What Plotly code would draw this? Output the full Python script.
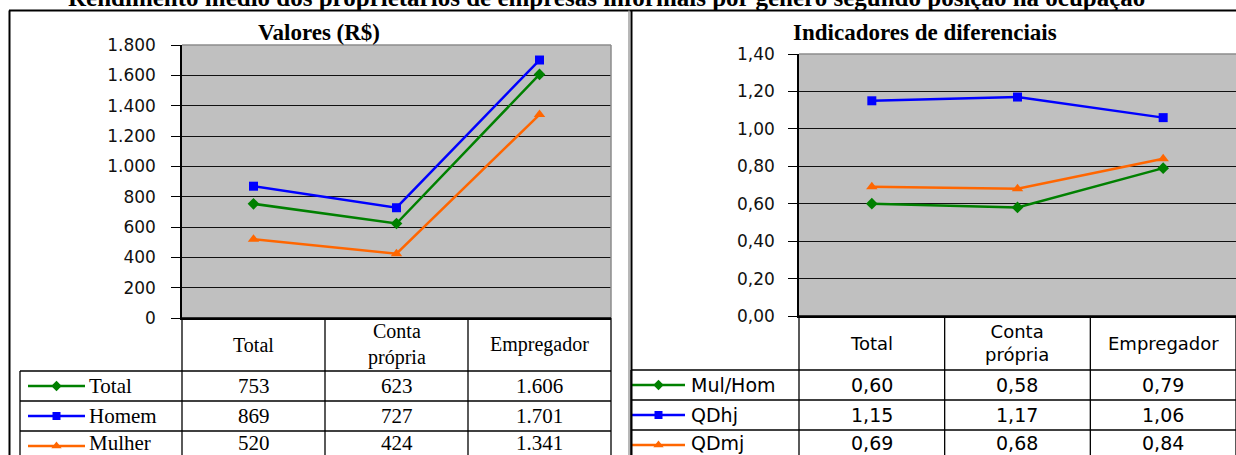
import plotly.graph_objects as go

W, H = 1236, 455

# ---------------- data ----------------
categories = ["Total", "Conta própria", "Empregador"]
header_labels = ["Total", "Conta<br>própria", "Empregador"]

left_title = "Valores (R$)"
left_names = ["Total", "Homem", "Mulher"]
left_total = [753, 623, 1606]
left_homem = [869, 727, 1701]
left_mulher = [520, 424, 1341]

right_title = "Indicadores de diferenciais"
right_names = ["Mul/Hom", "QDhj", "QDmj"]
right_mulhom = [0.60, 0.58, 0.79]
right_qdhj = [1.15, 1.17, 1.06]
right_qdmj = [0.69, 0.68, 0.84]

main_title = "Rendimento médio dos proprietários de empresas informais por gênero segundo posição na ocupação"

left_ticks = [0, 200, 400, 600, 800, 1000, 1200, 1400, 1600, 1800]
right_ticks = [0.0, 0.2, 0.4, 0.6, 0.8, 1.0, 1.2, 1.4]

# ---------------- styles ----------------
colors = ["#008000", "#0000FF", "#FF6600"]
symbols = ["diamond", "square", "triangle-up"]
msizes = [9, 9, 10]
SERIF = "Liberation Serif"
SANS = "DejaVu Sans"


def px(x):
    return x / W


def py(y):
    return 1 - y / H


def fmt_int(v):
    return f"{v:,}".replace(",", ".")


def fmt_dec(v):
    return f"{v:.2f}".replace(".", ",")


# layout geometry (pixels)
L_left, L_right, L_top, L_bottom = 182, 611, 45, 318
R_left, R_right, R_top, R_bottom = 799, 1236, 54, 316
L_rows = [371, 401, 431, 461]
R_rows = [370, 400, 430, 460]
L_leg_left = 20
R_leg_left = 631
TEXT_MAX_Y = 443  # keep the last (partly hidden) table row text inside the picture

fig = go.Figure()

left_series = [left_total, left_homem, left_mulher]
right_series = [right_mulhom, right_qdhj, right_qdmj]

for i, vals in enumerate(left_series):
    fig.add_trace(go.Scatter(
        x=categories, y=vals, mode="lines+markers", name=left_names[i],
        line=dict(color=colors[i], width=2.5),
        marker=dict(symbol=symbols[i], size=msizes[i], color=colors[i]),
        xaxis="x", yaxis="y", showlegend=False, hoverinfo="skip"))

for i, vals in enumerate(right_series):
    fig.add_trace(go.Scatter(
        x=categories, y=vals, mode="lines+markers", name=right_names[i],
        line=dict(color=colors[i], width=2.5),
        marker=dict(symbol=symbols[i], size=msizes[i], color=colors[i]),
        xaxis="x2", yaxis="y2", showlegend=False, hoverinfo="skip"))

shapes = []
annotations = []


def hline(x0, x1, y, color="black", width=1.3, layer="above"):
    shapes.append(dict(type="line", xref="paper", yref="paper",
                       x0=px(x0), x1=px(x1), y0=py(y), y1=py(y),
                       line=dict(color=color, width=width), layer=layer))


def vline(x, y0, y1, color="black", width=1.3, layer="above"):
    shapes.append(dict(type="line", xref="paper", yref="paper",
                       x0=px(x), x1=px(x), y0=py(y0), y1=py(y1),
                       line=dict(color=color, width=width), layer=layer))


# plot area backgrounds
for (l, r, t, b) in [(L_left, L_right, L_top, L_bottom), (R_left, R_right + 2, R_top, R_bottom)]:
    shapes.append(dict(type="rect", xref="paper", yref="paper",
                       x0=px(l), x1=px(r), y0=py(b), y1=py(t),
                       fillcolor="#C0C0C0", line=dict(width=0), layer="below"))

# plot borders (gray, top/right)
hline(L_left, L_right, L_top, color="#8C8C8C", width=1.5)
vline(L_right, L_top, L_bottom, color="#8C8C8C", width=1.5)
hline(R_left, R_right + 2, R_top, color="#8C8C8C", width=1.5)

# outer frames
hline(9, W + 2, 10.5, width=2)
vline(9.5, 10.5, H + 2, width=2)
vline(629, 10.5, H + 2, color="#A0A0A0", width=1.5)
vline(631.5, 10.5, H + 2, width=2)


def table(left, right, bottom, rows, leg_left, names, series, fmt, font, fsize, hsize):
    colw = (right - left) / 3
    bounds = [left + k * colw for k in range(4)]
    for xb in bounds:
        vline(xb, bottom, H + 2)
    vline(leg_left, rows[0], H + 2)
    for yr in rows[:-1]:
        hline(leg_left, right, yr)
    hline(left, right, bottom, width=1.5)
    # header
    for k, lab in enumerate(header_labels):
        annotations.append(dict(text=lab, x=px(bounds[k] + colw / 2), y=py((bottom + rows[0]) / 2),
                                xref="paper", yref="paper", showarrow=False,
                                font=dict(family=font, size=hsize, color="black"),
                                xanchor="center", yanchor="middle"))
    # rows
    for i, vals in enumerate(series):
        yc = min((rows[i] + rows[i + 1]) / 2, TEXT_MAX_Y)
        for k, v in enumerate(vals):
            annotations.append(dict(text=fmt(v), x=px(bounds[k] + colw / 2), y=py(yc),
                                    xref="paper", yref="paper", showarrow=False,
                                    font=dict(family=font, size=fsize, color="black"),
                                    xanchor="center", yanchor="middle"))
    return bounds


table(L_left, L_right, L_bottom, L_rows, L_leg_left, left_names, left_series, fmt_int, SERIF, 21, 20)
table(R_left, R_right, R_bottom, R_rows, R_leg_left, right_names, right_series, fmt_dec, SANS, 19, 18)

# legend keys inside tables (drawn on a pixel overlay axis)
def legend_keys(x0, x1, xt, rows, names, font, fsize):
    for i, nm in enumerate(names):
        yc = (rows[i] + rows[i + 1]) / 2
        fig.add_trace(go.Scatter(
            x=[x0, x1], y=[yc, yc], mode="lines",
            line=dict(color=colors[i], width=2.5),
            xaxis="x3", yaxis="y3", showlegend=False, hoverinfo="skip"))
        fig.add_trace(go.Scatter(
            x=[(x0 + x1) / 2], y=[yc], mode="markers",
            marker=dict(symbol=symbols[i], size=msizes[i] - 1, color=colors[i]),
            xaxis="x3", yaxis="y3", showlegend=False, hoverinfo="skip"))
        annotations.append(dict(text=nm, x=px(xt), y=py(min(yc, TEXT_MAX_Y)), xref="paper", yref="paper",
                                showarrow=False, xanchor="left", yanchor="middle",
                                font=dict(family=font, size=fsize, color="black")))


legend_keys(28, 85, 87, L_rows, left_names, SERIF, 21)
legend_keys(632, 685, 689, R_rows, right_names, SANS, 19)

# titles
annotations.append(dict(text=f"<b>{left_title}</b>", x=px(319), y=py(32.5), xref="paper", yref="paper",
                        showarrow=False, xanchor="center", yanchor="middle",
                        font=dict(family=SERIF, size=23, color="black")))
annotations.append(dict(text=f"<b>{right_title}</b>", x=px(925), y=py(32.5), xref="paper", yref="paper",
                        showarrow=False, xanchor="center", yanchor="middle",
                        font=dict(family=SERIF, size=23, color="black")))
annotations.append(dict(text=f"<b>{main_title}</b>", x=px(606), y=py(13), xref="paper", yref="paper",
                        showarrow=False, xanchor="center", yanchor="bottom",
                        font=dict(family=SERIF, size=25, color="black")))

axis_common = dict(showgrid=False, zeroline=False, showticklabels=False, ticks="",
                   type="category", categoryarray=categories, range=[-0.5, 2.5],
                   fixedrange=True, automargin=False)

fig.update_layout(
    width=W, height=H, autosize=False,
    margin=dict(l=0, r=0, t=0, b=0, pad=0, autoexpand=False),
    paper_bgcolor="white", plot_bgcolor="rgba(0,0,0,0)",
    separators=",.",
    showlegend=False,
    xaxis=dict(domain=[px(L_left), px(L_right)], anchor="y", showline=True,
               linecolor="black", linewidth=1.5, **axis_common),
    yaxis=dict(domain=[py(L_bottom), py(L_top)], anchor="x", range=[0, 1800],
               tickvals=left_ticks, separatethousands=True, tickformat=",d",
               showgrid=True, gridcolor="#111111", gridwidth=1.3, zeroline=False,
               showline=True, linecolor="black", linewidth=1.5,
               ticks="outside", ticklen=9, tickcolor="black", tickwidth=1.3,
               ticklabelstandoff=12, automargin=False,
               tickfont=dict(family=SANS, size=17, color="#111111"), fixedrange=True),
    xaxis2=dict(domain=[px(R_left), 1.0], anchor="y2", showline=True,
                linecolor="black", linewidth=1.5, **axis_common),
    yaxis2=dict(domain=[py(R_bottom), py(R_top)], anchor="x2", range=[0, 1.4],
                tickvals=right_ticks, tickformat=".2f",
                showgrid=True, gridcolor="#111111", gridwidth=1.3, zeroline=False,
                showline=True, linecolor="black", linewidth=1.5,
                ticks="outside", ticklen=9, tickcolor="black", tickwidth=1.3,
                ticklabelstandoff=10, automargin=False,
                tickfont=dict(family=SANS, size=17, color="#111111"), fixedrange=True),
    xaxis3=dict(domain=[0, 1], anchor="y3", range=[0, W], visible=False,
                fixedrange=True, automargin=False),
    yaxis3=dict(domain=[0, 1], anchor="x3", range=[H, 0], visible=False,
                fixedrange=True, automargin=False),
    shapes=shapes,
    annotations=annotations,
)

fig.write_html("out.html", config={"displayModeBar": False},
               post_script="document.body.style.margin='0px';document.body.style.overflow='hidden';")
